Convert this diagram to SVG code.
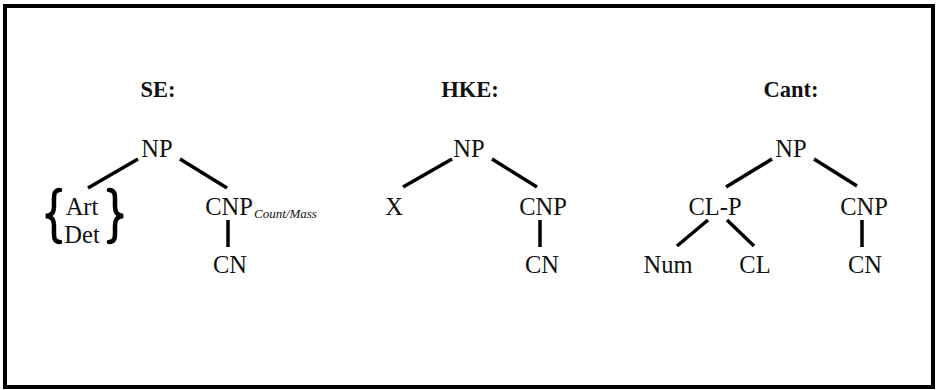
<svg xmlns="http://www.w3.org/2000/svg" width="938" height="390" viewBox="0 0 938 390">
<style>
.t{font-family:"Liberation Serif","Times New Roman",serif;font-size:24.5px;fill:#111;text-anchor:middle}
.h{font-family:"Liberation Serif","Times New Roman",serif;font-size:22.5px;font-weight:bold;fill:#111;text-anchor:middle}
.s{font-family:"Liberation Serif","Times New Roman",serif;font-size:13px;font-style:italic;fill:#111}
.e{stroke:#000;stroke-width:3.5;fill:none;stroke-linecap:butt}
.b{stroke:#000;stroke-width:4.5;fill:none;stroke-linecap:round}
</style>
<rect x="5" y="6" width="928" height="381" fill="#fff" stroke="#000" stroke-width="4"/>
<g id="titles">
<text class="h" x="158" y="97">SE:</text>
<text class="h" x="470" y="97">HKE:</text>
<text class="h" x="791" y="97">Cant:</text>
</g>
<g id="connectors">
<line class="e" x1="138" y1="159" x2="88" y2="188"/>
<line class="e" x1="180" y1="159" x2="227" y2="188"/>
<line class="e" x1="228" y1="220" x2="228" y2="247"/>
<line class="e" x1="452" y1="159" x2="403" y2="187"/>
<line class="e" x1="492" y1="159" x2="537" y2="187"/>
<line class="e" x1="540" y1="220" x2="540" y2="247"/>
<line class="e" x1="772" y1="159" x2="726" y2="187"/>
<line class="e" x1="814" y1="159" x2="857" y2="186"/>
<line class="e" x1="708" y1="220" x2="677" y2="246"/>
<line class="e" x1="727" y1="220" x2="754" y2="246"/>
<line class="e" x1="862" y1="220" x2="862" y2="247"/>
</g>
<g id="se-np"><text class="t" x="157" y="157">NP</text></g>
<g id="se-artdet">
<path class="b" d="M60 190 C53 190 54 196 54 205 C54 213 52 215 46 216 C52 217 54 219 54 227 C54 236 53 242 60 242"/>
<path class="b" d="M109 190 C116 190 115 196 115 205 C115 213 117 215 123 216 C117 217 115 219 115 227 C115 236 116 242 109 242"/>
<text class="t" x="82" y="215">Art</text>
<text class="t" x="82" y="243">Det</text>
</g>
<g id="se-cnp"><text class="t" x="229" y="215">CNP</text><text class="s" x="254" y="218">Count/Mass</text></g>
<g id="se-cn"><text class="t" x="230" y="273">CN</text></g>
<g id="hke-np"><text class="t" x="469" y="157">NP</text></g>
<g id="hke-x"><text class="t" x="394" y="215">X</text></g>
<g id="hke-cnp"><text class="t" x="543" y="215">CNP</text></g>
<g id="hke-cn"><text class="t" x="542" y="273">CN</text></g>
<g id="cant-np"><text class="t" x="791" y="157">NP</text></g>
<g id="cant-clp"><text class="t" x="715" y="215">CL-P</text></g>
<g id="cant-cnp"><text class="t" x="864" y="215">CNP</text></g>
<g id="cant-num"><text class="t" x="668" y="273">Num</text></g>
<g id="cant-cl"><text class="t" x="755" y="273">CL</text></g>
<g id="cant-cn"><text class="t" x="865" y="273">CN</text></g>
</svg>
